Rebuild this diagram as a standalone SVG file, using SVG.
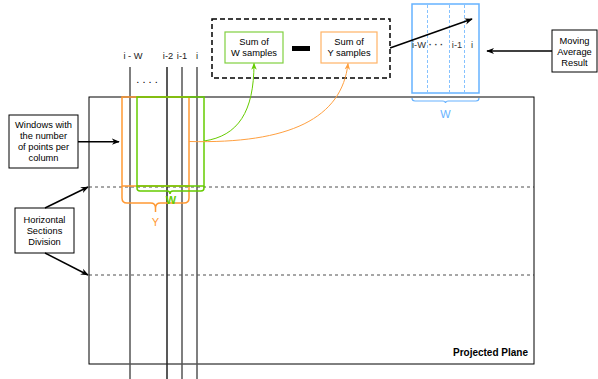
<svg xmlns="http://www.w3.org/2000/svg" width="598" height="379" viewBox="0 0 598 379">
  <style>
    text { font-family: "Liberation Sans", Arial, sans-serif; font-size: 9.3px; fill: #000; }
    .c { text-anchor: middle; }
    .box { fill: #fff; stroke: #000; stroke-width: 1; }
    .col { stroke: #555; stroke-width: 1.5; }
    .hdash { stroke: #222; stroke-width: 0.8; stroke-dasharray: 3 3; fill: none; }
    .arrow { stroke: #000; stroke-width: 1.5; fill: none; marker-end: url(#blk); }
  </style>
  <defs>
    <marker id="blk" viewBox="0 0 10 10" refX="9" refY="5" markerWidth="8" markerHeight="8" markerUnits="userSpaceOnUse" orient="auto">
      <path d="M0,1 L10,5 L0,9 L3,5 Z" fill="#000"/>
    </marker>
    <marker id="grn" viewBox="0 0 10 10" refX="9" refY="5" markerWidth="7" markerHeight="7" markerUnits="userSpaceOnUse" orient="auto">
      <path d="M0,1 L10,5 L0,9 L3,5 Z" fill="#66cc00"/>
    </marker>
    <marker id="org" viewBox="0 0 10 10" refX="9" refY="5" markerWidth="7" markerHeight="7" markerUnits="userSpaceOnUse" orient="auto">
      <path d="M0,1 L10,5 L0,9 L3,5 Z" fill="#ffa040"/>
    </marker>
  </defs>

  <!-- projected plane -->
  <g id="plane">
    <rect x="89" y="97" width="445" height="267" fill="#fff" stroke="#000" stroke-width="1"/>
    <line class="hdash" x1="89" y1="187" x2="534" y2="187"/>
    <line class="hdash" x1="89" y1="275" x2="534" y2="275"/>
    <text x="528" y="356" style="font-weight:bold;font-size:10px" text-anchor="end">Projected Plane</text>
  </g>

  <!-- sample columns -->
  <g id="columns">
    <line class="col" x1="130" y1="67" x2="130" y2="379"/>
    <line class="col" x1="167" y1="67" x2="167" y2="379" style="stroke:#222"/>
    <line class="col" x1="182" y1="67" x2="182" y2="379"/>
    <line class="col" x1="197" y1="67" x2="197" y2="379"/>
    <text class="c" x="133" y="59" style="fill:#222">i - W</text>
    <text class="c" x="168" y="59" style="fill:#222">i-2</text>
    <text class="c" x="182" y="59" style="fill:#222">i-1</text>
    <text class="c" x="197" y="59" style="fill:#222">i</text>
    <text class="c" x="147" y="83" style="font-size:11px">. . . .</text>
  </g>

  <!-- windows -->
  <g id="window-y">
    <rect x="122" y="97" width="67" height="89" fill="none" stroke="#ff9933" stroke-width="1.5"/>
    <path d="M122,186 V198 Q122,203 127,203 H150.5 Q155.5,203 155.5,208 V212 M155.5,208 Q155.5,203 160.5,203 H184 Q189,203 189,198 V186" fill="none" stroke="#ff9933" stroke-width="1.5"/>
    <text class="c" x="155.5" y="226" style="fill:#ff9933;font-size:11px">Y</text>
  </g>
  <g id="window-w">
    <rect x="137" y="97" width="67" height="89" fill="none" stroke="#66cc00" stroke-width="1.5"/>
    <path d="M137,186 V188 Q137,191 140,191 H167 Q170,191 170,194 M170,194 Q170,191 173,191 H201 Q204,191 204,188 V186" fill="none" stroke="#66cc00" stroke-width="1.5"/>
    <text class="c" x="171" y="204" style="fill:#66cc00;font-size:11px;font-weight:bold">W</text>
  </g>

  <!-- difference of sums -->
  <g id="difference">
    <rect x="212" y="19" width="178" height="59" fill="none" stroke="#000" stroke-width="1.5" stroke-dasharray="5 3"/>
    <rect x="292" y="46" width="18" height="5" fill="#000"/>
  </g>
  <g id="sum-w">
    <rect x="225" y="32" width="58" height="31" fill="#fff" stroke="#80d040" stroke-width="1.2"/>
    <text class="c" x="254" y="45">Sum of</text>
    <text class="c" x="254" y="56">W samples</text>
  </g>
  <g id="sum-y">
    <rect x="321" y="32" width="56" height="31" fill="#fff" stroke="#ffb366" stroke-width="1.2"/>
    <text class="c" x="349" y="45">Sum of</text>
    <text class="c" x="349" y="56">Y samples</text>
  </g>

  <!-- result window -->
  <g id="result">
    <rect x="412" y="4" width="67" height="89" fill="#fff" stroke="#66b2ff" stroke-width="1.5"/>
    <g stroke="#66b2ff" stroke-width="0.8" stroke-dasharray="3 2">
      <line x1="427.5" y1="5" x2="427.5" y2="92"/>
      <line x1="449.5" y1="5" x2="449.5" y2="92"/>
      <line x1="464.5" y1="5" x2="464.5" y2="92"/>
    </g>
    <text class="c" x="419" y="48" style="fill:#333">i-W</text>
    <text class="c" x="436" y="48" style="fill:#333;font-weight:bold">· · ·</text>
    <text class="c" x="457" y="48" style="fill:#333">i-1</text>
    <text class="c" x="472" y="48" style="fill:#333">i</text>
    <path d="M412,98 Q412,101 415,101 H442.5 Q445.5,101 445.5,103 M445.5,103 Q445.5,101 448.5,101 H476 Q479,101 479,98" fill="none" stroke="#66b2ff" stroke-width="1.2"/>
    <text class="c" x="445.5" y="118" style="fill:#66b2ff;font-size:11px">W</text>
  </g>

  <!-- labels -->
  <g id="label-windows">
    <rect class="box" x="9" y="115" width="69" height="53"/>
    <text class="c" x="43.5" y="128">Windows with</text>
    <text class="c" x="43.5" y="139">the number</text>
    <text class="c" x="43.5" y="150">of points per</text>
    <text class="c" x="43.5" y="161">column</text>
  </g>
  <g id="label-sections">
    <rect class="box" x="15" y="208" width="59" height="45"/>
    <text class="c" x="44.5" y="223">Horizontal</text>
    <text class="c" x="44.5" y="234">Sections</text>
    <text class="c" x="44.5" y="245">Division</text>
  </g>
  <g id="label-result">
    <rect class="box" x="552" y="30" width="45" height="42"/>
    <text class="c" x="574.5" y="44">Moving</text>
    <text class="c" x="574.5" y="55">Average</text>
    <text class="c" x="574.5" y="66">Result</text>
  </g>

  <!-- connectors -->
  <g id="connectors">
    <path class="arrow" d="M78,141.7 H119"/>
    <path class="arrow" d="M45,208 L88,187"/>
    <path class="arrow" d="M45,253 L88,275"/>
    <path class="arrow" d="M552,51 H487"/>
    <path class="arrow" d="M390,48 L472,19"/>
    <path d="M204,141 C238,136 254,112 254,63.5" fill="none" stroke="#66cc00" stroke-width="1" marker-end="url(#grn)"/>
    <path d="M189,141.5 C290,144 342,118 348,63.5" fill="none" stroke="#ffa040" stroke-width="1" marker-end="url(#org)"/>
  </g>
</svg>
